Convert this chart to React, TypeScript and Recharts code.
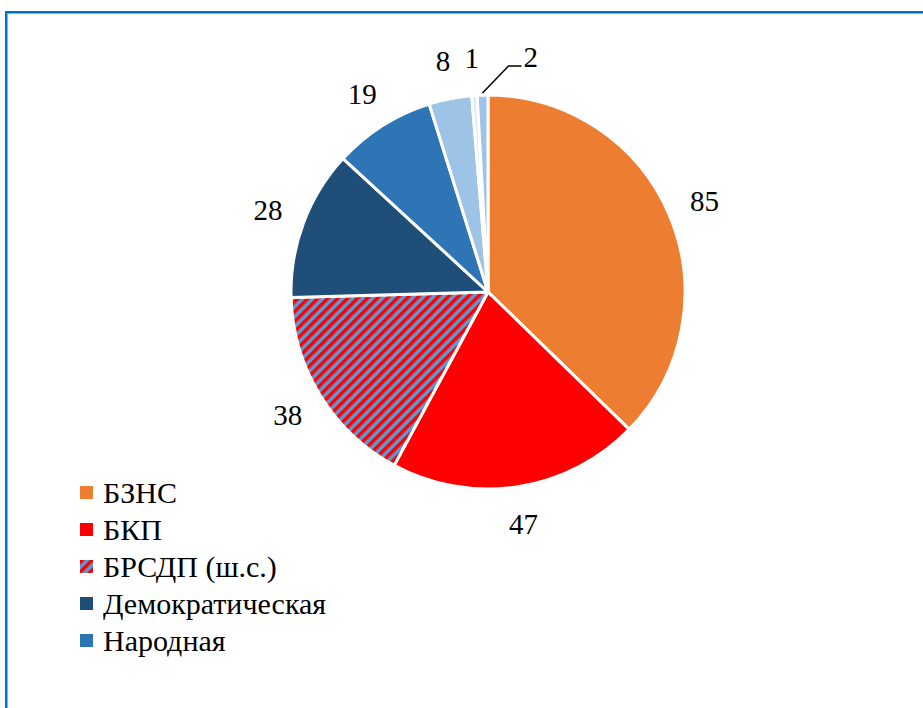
import { Cell, Pie, PieChart } from "recharts";

const parties = [
  "БЗНС",
  "БКП",
  "БРСДП (ш.с.)",
  "Демократическая",
  "Народная",
  "Прогрессивно-либеральная",
  "Радикальная",
  "Прочие",
];
const seats = [85, 47, 38, 28, 19, 8, 1, 2];
const colors = ["#ED7D31", "#FF0000", "url(#stripes)", "#1F4E79", "#2E75B6", "#9DC3E6", "#DEEBF7", "#9DC3E6"];

// only the first five entries fit in the visible legend area
const legendShown = 5;
// the tiny slice whose label sits on a leader line
const calloutIndex = 7;

const data = parties.map((name, i) => ({ name, value: seats[i] }));

const RADIAN = Math.PI / 180;
const font = "Liberation Serif, DejaVu Serif, Times New Roman, serif";

function renderLabel(props: any) {
  const { cx, cy, midAngle, outerRadius, value, index } = props;
  const cos = Math.cos(-midAngle * RADIAN);
  const sin = Math.sin(-midAngle * RADIAN);
  if (index === calloutIndex) {
    const sx = cx + (outerRadius + 2) * cos;
    const sy = cy + (outerRadius + 2) * sin;
    const ex = sx + 26;
    const ey = sy - 27;
    return (
      <g>
        <path d={`M${sx},${sy}L${ex},${ey}H${ex + 13}`} stroke="#000" strokeWidth={1.5} fill="none" />
        <text x={ex + 15} y={ey + 1} style={{ fontFamily: font, fontSize: 29 }} fill="#000">
          {value}
        </text>
      </g>
    );
  }
  const r = outerRadius + 38;
  return (
    <text
      x={cx + r * cos}
      y={cy + r * sin}
      textAnchor="middle"
      dominantBaseline="central"
      style={{ fontFamily: font, fontSize: 29 }}
      fill="#000"
    >
      {value}
    </text>
  );
}

function LegendBox() {
  return (
    <div
      style={{
        position: "absolute",
        left: 80,
        top: 474,
        fontFamily: font,
        fontSize: 30,
        lineHeight: "37px",
        color: "#000",
      }}
    >
      {data.slice(0, legendShown).map((d, i) => (
        <div key={d.name} style={{ display: "flex", alignItems: "center", whiteSpace: "nowrap" }}>
          <svg width={13} height={13} style={{ marginRight: 10 }}>
            <defs>
              <pattern id={`lg${i}`} patternUnits="userSpaceOnUse" width={7} height={7} patternTransform="rotate(45)">
                <rect width={7} height={7} fill="#5B9BD5" />
                <rect width={3.5} height={7} fill="#FF0000" />
              </pattern>
            </defs>
            <rect width={13} height={13} fill={colors[i] === "url(#stripes)" ? `url(#lg${i})` : colors[i]} />
          </svg>
          {d.name}
        </div>
      ))}
    </div>
  );
}

export default function App() {
  return (
    <div style={{ position: "fixed", left: 0, top: 0, width: 923, height: 708, overflow: "hidden", background: "#fff" }}>
      <div
        style={{
          position: "absolute",
          left: 5,
          top: 11,
          width: 1100,
          height: 1000,
          borderLeft: "2px solid #0070C0",
          borderTop: "2px solid #0070C0",
          boxShadow: "inset 1px 1px 0 #7fb2e0",
        }}
      />
      <div style={{ position: "absolute", left: 0, top: 0 }}>
        <PieChart width={923} height={708} margin={{ top: 0, right: 0, bottom: 0, left: 0 }}>
          <defs>
            <pattern id="stripes" patternUnits="userSpaceOnUse" width={7} height={7} patternTransform="rotate(45)">
              <rect width={7} height={7} fill="#5B9BD5" />
              <rect width={3.5} height={7} fill="#FF0000" />
            </pattern>
          </defs>
          <Pie
            data={data}
            dataKey="value"
            nameKey="name"
            cx={488}
            cy={292}
            outerRadius={197}
            startAngle={90}
            endAngle={-270}
            stroke="#fff"
            strokeWidth={3}
            label={renderLabel}
            labelLine={false}
            isAnimationActive={false}
          >
            {data.map((d, i) => (
              <Cell key={d.name} fill={colors[i]} />
            ))}
          </Pie>
        </PieChart>
      </div>
      <LegendBox />
    </div>
  );
}
